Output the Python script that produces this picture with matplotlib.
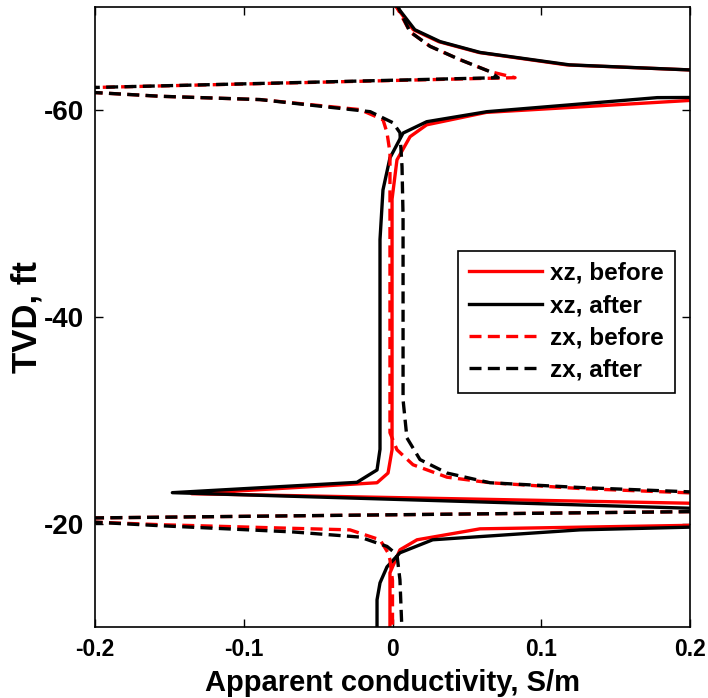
import matplotlib
matplotlib.use("Agg")
import matplotlib.pyplot as plt

plt.rcParams['font.family'] = ['Liberation Sans', 'DejaVu Sans']
plt.rcParams['font.weight'] = 'bold'

# ---- data (TVD in ft, apparent conductivity in S/m) ----
xz_before_tvd = [-70.5, -67.8, -66.65, -65.6, -64.4, -63.85, -63.0, -61.8, -61.0, -59.8,
                 -58.6, -57.45, -55.2, -51.4, -27.15, -24.9, -23.96, -22.9, -21.95,
                 -21.0, -20.2, -19.85, -19.5, -18.44, -17.47, -15.24, -9.5]
xz_before_val = [0.0, 0.014, 0.031, 0.058, 0.117, 0.21, 0.8, 0.8, 0.205, 0.063,
                 0.023, 0.0118, 0.003, -0.0003, -0.0003, -0.003, -0.0104, -0.135, 0.21,
                 0.9, 0.9, 0.205, 0.0588, 0.0165, 0.005, -0.0017, -0.0017]

xz_after_tvd = [-70.5, -67.8, -66.65, -65.6, -64.4, -63.85, -63.0, -61.8, -61.25, -61.23,
                -59.87, -58.9, -57.8, -55.4, -52.3, -47.5, -27.2, -25.2, -24.0, -23.0,
                -21.45, -20.8, -20.1, -19.68, -19.4, -18.44, -17.18, -15.82, -14.27,
                -12.63, -9.5]
xz_after_val = [0.0005, 0.015, 0.032, 0.059, 0.119, 0.21, 0.8, 0.8, 0.21, 0.178,
                0.0635, 0.023, 0.0071, -0.0017, -0.0064, -0.0084, -0.0084, -0.0104, -0.0239, -0.148,
                0.21, 0.9, 0.9, 0.205, 0.126, 0.027, 0.005, -0.0037, -0.0084,
                -0.0104, -0.0104]

zx_before_tvd = [-70.5, -67.6, -66.2, -64.9, -63.75, -63.16, -62.18, -62.0, -61.8, -61.36,
                 -61.04, -60.07, -59.1, -57.84, -55.9, -51.36, -28.8, -27.15, -25.7,
                 -24.5, -23.96, -23.4, -22.95, -22.3, -21.17, -20.55, -20.35, -20.18,
                 -19.9, -19.6, -19.4, -18.44, -17.18, -16.5, -14.5, -9.5]
zx_before_val = [0.001, 0.0118, 0.0252, 0.0454, 0.0655, 0.0824, -0.21, -0.8, -0.21, -0.156,
                 -0.089, -0.0218, -0.0064, -0.0037, -0.0017, -0.0017, -0.0017, 0.003, 0.0138,
                 0.0366, 0.0655, 0.126, 0.205, 0.8, 0.205, -0.205, -0.8, -0.205,
                 -0.156, -0.080, -0.0286, -0.0084, -0.003, -0.0017, 0.0, 0.0]

zx_after_tvd = [-70.5, -67.6, -66.2, -64.9, -63.75, -63.16, -62.18, -62.0, -61.8, -61.36,
                -61.04, -59.87, -58.8, -57.84, -54.55, -49.7, -32.0, -28.3, -26.2,
                -24.9, -23.96, -23.5, -23.05, -22.3, -21.17, -20.55, -20.35, -20.18,
                -19.8, -19.2, -18.7, -17.8, -17.0, -14.57, -9.5]
zx_after_val = [0.002, 0.0118, 0.0252, 0.0454, 0.0655, 0.071, -0.21, -0.8, -0.21, -0.156,
                -0.089, -0.015, 0.0003, 0.005, 0.0064, 0.0071, 0.0071, 0.0097, 0.0185,
                0.0366, 0.0655, 0.126, 0.205, 0.8, 0.205, -0.205, -0.8, -0.205,
                -0.156, -0.067, -0.0218, -0.0037, 0.003, 0.005, 0.0064]

x_ticks = [-0.2, -0.1, 0, 0.1, 0.2]
x_ticklabels = ['-0.2', '-0.1', '0', '0.1', '0.2']
y_ticks = [-60, -40, -20]
y_ticklabels = ['-60', '-40', '-20']

fig = plt.figure(figsize=(7.08, 6.98), dpi=100)
ax = fig.add_axes([95/708, 1-627/698, (690-95)/708, (627-7)/698])

lw = 2.4
dash = (0, (3.6, 1.9))
ax.plot(xz_before_val, xz_before_tvd, color='#ff0000', lw=lw, label='xz, before')
ax.plot(xz_after_val, xz_after_tvd, color='black', lw=lw, label='xz, after')
ax.plot(zx_before_val, zx_before_tvd, color='#ff0000', lw=lw, ls=dash, label='zx, before')
ax.plot(zx_after_val, zx_after_tvd, color='black', lw=lw, ls=dash, label='zx, after')

ax.set_xlim(-0.2, 0.2)
ax.set_ylim(-10, -70)
ax.set_xticks(x_ticks)
ax.set_xticklabels(x_ticklabels, fontsize=16.5)
ax.set_yticks(y_ticks)
ax.set_yticklabels(y_ticklabels, fontsize=20)
ax.tick_params(direction='in', length=6, width=1, top=True, right=True, pad=8)
for s in ax.spines.values():
    s.set_linewidth(1.2)

ax.set_xlabel('Apparent conductivity, S/m', fontsize=21, fontweight='bold', labelpad=6)
ax.set_ylabel('TVD, ft', fontsize=25, fontweight='bold', labelpad=0)

leg = ax.legend(loc='upper left', bbox_to_anchor=(458/708, 1-251/698),
                bbox_transform=fig.transFigure, fontsize=17.5, frameon=True, fancybox=False,
                edgecolor='black', framealpha=1, handlelength=3.0, handletextpad=0.35,
                labelspacing=0.38, borderpad=0.45, borderaxespad=0)
leg.get_frame().set_linewidth(1.2)

fig.savefig('out.png', dpi=100)
